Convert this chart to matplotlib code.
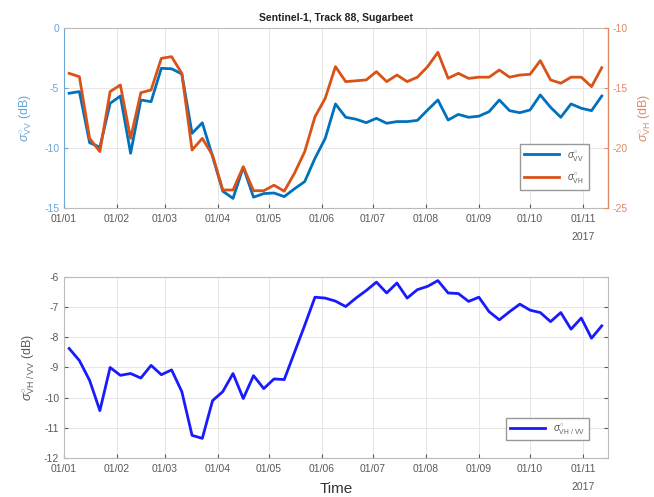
import matplotlib
matplotlib.use('Agg')
import matplotlib.pyplot as plt
import matplotlib.dates as mdates
import numpy as np
import pandas as pd

plt.rcParams['font.family'] = ['Liberation Sans', 'DejaVu Sans']
plt.rcParams['mathtext.fontset'] = 'custom'
plt.rcParams['mathtext.rm'] = 'Liberation Sans'
plt.rcParams['mathtext.it'] = 'Liberation Sans:italic'
plt.rcParams['axes.unicode_minus'] = False

# Sentinel-1 acquisitions, 6-day revisit
dates = pd.date_range('2017-01-04', periods=53, freq='6D')

sigma_vv = [-5.44, -5.3, -9.56, -9.94, -6.28, -5.67, -10.44, -6.0, -6.14, -3.36,
            -3.4, -3.83, -8.78, -7.9, -10.7, -13.6, -14.2, -11.6, -14.1, -13.8,
            -13.75, -14.05, -13.4, -12.8, -10.86, -9.2, -6.33, -7.44, -7.6, -7.89,
            -7.53, -7.94, -7.8, -7.8, -7.7, -6.83, -6.0, -7.67, -7.2, -7.44,
            -7.35, -6.97, -6.0, -6.89, -7.06, -6.83, -5.58, -6.61, -7.44, -6.33,
            -6.69, -6.89, -5.67]

sigma_vh = [-13.78, -14.06, -19.2, -20.3, -15.3, -14.75, -19.2, -15.39, -15.17, -12.53,
            -12.39, -13.78, -20.17, -19.2, -20.6, -23.5, -23.5, -21.56, -23.56, -23.56,
            -23.1, -23.6, -22.1, -20.3, -17.4, -15.86, -13.22, -14.47, -14.4, -14.33,
            -13.64, -14.47, -13.92, -14.47, -14.1, -13.22, -12.03, -14.19, -13.78, -14.2,
            -14.1, -14.1, -13.5, -14.1, -13.92, -13.86, -12.72, -14.33, -14.6, -14.1,
            -14.1, -14.89, -13.31]

sigma_ratio = [-8.37, -8.77, -9.43, -10.43, -9.0, -9.26, -9.2, -9.35, -8.93, -9.24,
               -9.08, -9.8, -11.25, -11.35, -10.1, -9.8, -9.2, -10.03, -9.27, -9.7,
               -9.38, -9.4, -8.5, -7.6, -6.67, -6.7, -6.8, -6.98, -6.7, -6.45,
               -6.17, -6.53, -6.2, -6.7, -6.42, -6.31, -6.12, -6.53, -6.55, -6.81,
               -6.67, -7.15, -7.42, -7.15, -6.9, -7.1, -7.18, -7.48, -7.18, -7.73,
               -7.36, -8.03, -7.62]

vv_ticks = [0, -5, -10, -15]
vh_ticks = [-10, -15, -20, -25]
ratio_ticks = [-6, -7, -8, -9, -10, -11, -12]
month_ticks = pd.date_range('2017-01-01', '2017-11-01', freq='MS')

c_vv = '#0072BD'
c_vh = '#D95319'
c_ratio = '#1a1aff'
c_txt = '#5a5a5a'
c_grid = '#e6e6e6'
fs = 7.5
xlim = (pd.Timestamp('2017-01-01'), pd.Timestamp('2017-11-15 16:00'))

fig = plt.figure(figsize=(6.54, 4.97), dpi=100)
ax1 = fig.add_axes([0.0979, 0.5815, 0.8318, 0.3622])
ax3 = fig.add_axes([0.0979, 0.0785, 0.8318, 0.3642])


def style_dates(ax):
    ax.set_xlim(*xlim)
    ax.set_xticks(month_ticks)
    ax.xaxis.set_major_formatter(mdates.DateFormatter('%d/%m'))
    ax.tick_params(axis='x', direction='in', length=3, labelsize=fs,
                   colors=c_txt, pad=4)
    ax.grid(True, color=c_grid, lw=0.7)
    ax.set_axisbelow(True)
    ax.text(pd.Timestamp('2017-11-01'), -0.135, '2017', transform=ax.get_xaxis_transform(),
            ha='center', va='top', fontsize=fs, color=c_txt)


# upper panel: VV on the left axis, VH on the right axis
ax2 = ax1.twinx()
l1, = ax1.plot(dates, sigma_vv, color=c_vv, lw=2)
l2, = ax2.plot(dates, sigma_vh, color=c_vh, lw=2)
ax1.set_ylim(-15, 0)
ax2.set_ylim(-25, -10)
ax1.set_yticks(vv_ticks)
ax2.set_yticks(vh_ticks)
style_dates(ax1)
ax1.tick_params(axis='y', direction='in', length=3, labelsize=fs, colors='#6aa6d6')
ax2.tick_params(axis='y', direction='in', length=3, labelsize=fs, colors='#e08a66')
for s in ['top', 'bottom']:
    ax1.spines[s].set_color('#bbbbbb')
    ax2.spines[s].set_visible(False)
ax1.spines['left'].set_color('#6aa6d6')
ax2.spines['left'].set_visible(False)
ax2.spines['right'].set_color('#e08a66')
ax1.set_ylabel(r'$\sigma^{\circ}_{\rm VV}$ (dB)', fontsize=9, color='#6aa6d6', labelpad=7)
ax2.set_ylabel(r'$\sigma^{\circ}_{\rm VH}$ (dB)', fontsize=9, color='#e08a66',
               rotation=90, labelpad=6)
ax1.set_title('Sentinel-1, Track 88, Sugarbeet', fontsize=7.5, fontweight='bold',
              color='#222222', pad=5)
ax1.legend([l1, l2], [r'$\sigma^{\circ}_{\rm VV}$', r'$\sigma^{\circ}_{\rm VH}$'],
           loc='lower right', bbox_to_anchor=(0.974, 0.072), fontsize=7,
           handlelength=3.6, fancybox=False, edgecolor='#999999', framealpha=1,
           borderpad=0.5, labelspacing=0.9, labelcolor=c_txt)

# lower panel: cross-polarisation ratio
l3, = ax3.plot(dates, sigma_ratio, color=c_ratio, lw=2)
ax3.set_ylim(-12, -6)
ax3.set_yticks(ratio_ticks)
style_dates(ax3)
ax3.tick_params(axis='y', direction='in', length=3, labelsize=fs, colors=c_txt,
                right=True)
for s in ax3.spines.values():
    s.set_color('#bbbbbb')
ax3.set_ylabel(r'$\sigma^{\circ}_{\rm VH\ /\ VV}$ (dB)', fontsize=9, color=c_txt, labelpad=5)
ax3.set_xlabel('Time', fontsize=11, color='#333333', labelpad=6)
ax3.legend([l3], [r'$\sigma^{\circ}_{\rm VH\ /\ VV}$'],
           loc='lower right', bbox_to_anchor=(0.974, 0.072), fontsize=7,
           handlelength=3.6, fancybox=False, edgecolor='#999999', framealpha=1,
           borderpad=0.4, labelcolor=c_txt)

fig.savefig('out.png', dpi=100)
